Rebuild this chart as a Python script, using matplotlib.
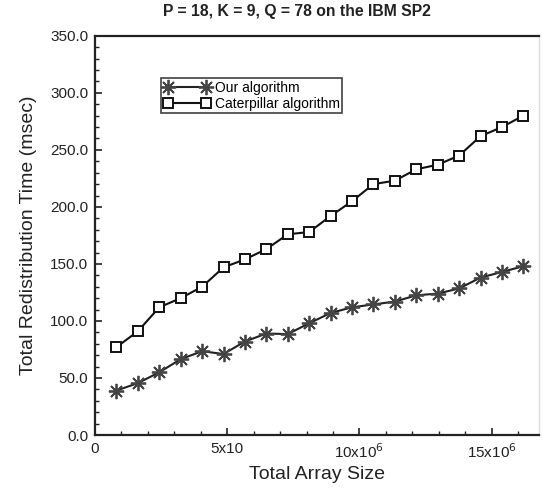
import numpy as np
import matplotlib
matplotlib.use("Agg")
import matplotlib.pyplot as plt
from matplotlib.ticker import MultipleLocator, FixedLocator

plt.rcParams['font.family'] = ['Liberation Sans', 'DejaVu Sans']

# array sizes (elements)
sizes = [0.81e6, 1.62e6, 2.43e6, 3.24e6, 4.05e6, 4.86e6, 5.67e6, 6.48e6, 7.29e6, 8.10e6,
         8.91e6, 9.72e6, 10.53e6, 11.34e6, 12.15e6, 12.96e6, 13.77e6, 14.58e6, 15.39e6, 16.20e6]
ours = [39, 45.5, 55, 66.5, 73.5, 71, 82, 89, 88.5, 98,
        107, 112, 114.5, 117, 122.5, 124, 128.5, 138, 143, 148]
caterpillar = [77, 91, 112, 120, 130, 147, 154, 163, 176, 178,
               192, 205, 220, 223, 233, 237, 245, 262, 270, 280]

xtick_vals = [0, 5e6, 10e6, 15e6]
xtick_labels = ['0', '5x10', r'10x10$^6$', r'15x10$^6$']
ytick_vals = [0, 50, 100, 150, 200, 250, 300, 350]

fig = plt.figure(figsize=(5.43, 4.91), dpi=100)
ax = fig.add_axes([0.175, 0.114, 0.818, 0.813])

ax.plot(sizes, ours, color='#222222', lw=1.5, marker=(8, 2, 0), ms=11,
        mec='#444444', mew=1.3, label='Our algorithm')
ax.plot(sizes, caterpillar, color='#111111', lw=1.5, marker='s', ms=7.5,
        mfc='white', mec='#111111', mew=1.4, label='Caterpillar algorithm')

ax.set_xlim(0, 16.8e6)
ax.set_ylim(0, 350)
ax.xaxis.set_major_locator(FixedLocator(xtick_vals))
ax.set_xticklabels(xtick_labels)
ax.xaxis.set_minor_locator(MultipleLocator(1e6))
ax.yaxis.set_major_locator(FixedLocator(ytick_vals))
ax.set_yticklabels([f'{v:.1f}' for v in ytick_vals])
ax.yaxis.set_minor_locator(MultipleLocator(10))
ax.tick_params(which='both', direction='in', top=False, right=False,
               labelsize=11, colors='#222222')
ax.tick_params(which='major', length=5, width=1.2, pad=5)
ax.tick_params(which='minor', length=3, width=1)

for s in ['left', 'bottom', 'top']:
    ax.spines[s].set_linewidth(1.6)
    ax.spines[s].set_color('#222222')
ax.spines['right'].set_color('#dddddd')
ax.spines['right'].set_linewidth(1)

ax.set_xlabel('Total Array Size', fontsize=14, color='#222222', labelpad=4)
ax.set_ylabel('Total Redistribution Time (msec)', fontsize=14, color='#222222')
ax.yaxis.set_label_coords(-0.13, 0.5)
ax.set_title('P = 18, K = 9, Q = 78 on the IBM SP2', fontsize=11.3,
             fontweight='bold', color='#222222', pad=14, x=0.455)

leg = ax.legend(loc='upper left', bbox_to_anchor=(0.149, 0.895), numpoints=2,
                fontsize=10, frameon=True, fancybox=False, handlelength=3.3,
                handletextpad=0.35, borderpad=0.2, borderaxespad=0, labelspacing=0.15)
leg.get_frame().set_edgecolor('#111111')
leg.get_frame().set_linewidth(1.2)

fig.savefig('out.png', dpi=100)
